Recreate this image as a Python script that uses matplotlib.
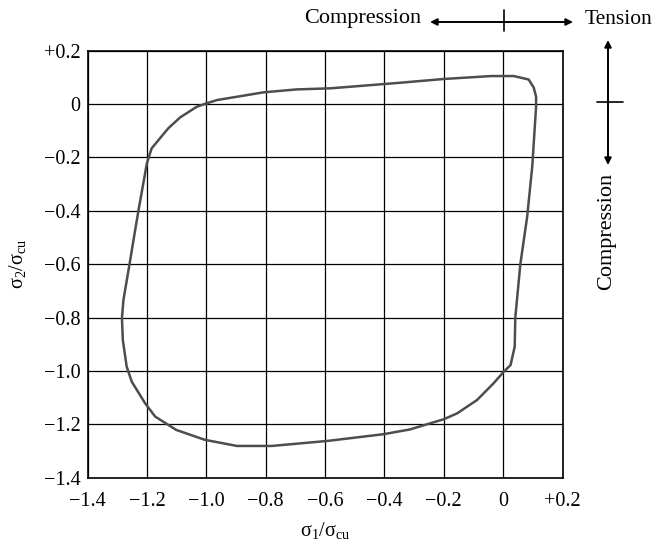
import matplotlib.pyplot as plt
import numpy as np

plt.rcParams['font.family'] = ['Liberation Serif', 'DejaVu Serif']
plt.rcParams['mathtext.fontset'] = 'custom'
plt.rcParams['mathtext.rm'] = 'Liberation Serif'
plt.rcParams['mathtext.default'] = 'regular'

# failure envelope (sigma1/sigma_cu, sigma2/sigma_cu)
s1 = [-0.998, -0.964, -0.807, -0.695, -0.582, -0.346, -0.200, -0.040, 0.036, 0.086,
      0.103, 0.111, 0.111, 0.098, 0.081, 0.058, 0.041, 0.039, 0.025, 0.002,
      -0.032, -0.088, -0.155, -0.200, -0.245, -0.313, -0.403, -0.590, -0.779, -0.897,
      -1.005, -1.101, -1.172, -1.206, -1.251, -1.268, -1.281, -1.284, -1.279, -1.258,
      -1.245, -1.228, -1.200, -1.184, -1.161, -1.128, -1.088, -1.032, -0.998]
s2 = [0.003, 0.015, 0.044, 0.055, 0.059, 0.080, 0.094, 0.105, 0.105, 0.092,
      0.062, 0.028, -0.010, -0.235, -0.422, -0.600, -0.800, -0.909, -0.978, -1.003,
      -1.046, -1.109, -1.159, -1.181, -1.196, -1.219, -1.237, -1.262, -1.281, -1.281,
      -1.258, -1.221, -1.171, -1.121, -1.040, -0.984, -0.884, -0.803, -0.734, -0.597,
      -0.509, -0.397, -0.222, -0.166, -0.135, -0.091, -0.050, -0.010, 0.003]

xticks = [-1.4, -1.2, -1.0, -0.8, -0.6, -0.4, -0.2, 0.0, 0.2]
xlabels = ['\u22121.4', '\u22121.2', '\u22121.0', '\u22120.8', '\u22120.6', '\u22120.4', '\u22120.2', '0', '+0.2']
yticks = [-1.4, -1.2, -1.0, -0.8, -0.6, -0.4, -0.2, 0.0, 0.2]
ylabels = ['\u22121.4', '\u22121.2', '\u22121.0', '\u22120.8', '\u22120.6', '\u22120.4', '\u22120.2', '0', '+0.2']

fig = plt.figure(figsize=(6.57, 5.44), dpi=100)
ax = fig.add_axes([87.5 / 657, 1 - 477.7 / 544, 475 / 657, 427 / 544])

ax.plot(s1, s2, color='#4d4d4d', linewidth=1.8, solid_joinstyle='round')

ax.set_xlim(-1.4, 0.2)
ax.set_ylim(-1.4, 0.2)
ax.set_xticks(xticks)
ax.set_xticklabels(xlabels)
ax.set_yticks(yticks)
ax.set_yticklabels(ylabels)
ax.tick_params(length=0, labelsize=14.5)
ax.tick_params(axis='x', pad=10)
ax.tick_params(axis='y', pad=5)
ax.grid(True, color='black', linewidth=0.9)
for sp in ax.spines.values():
    sp.set_linewidth(1.2)

ax.set_xlabel('σ$_1$/σ$_{cu}$', fontsize=14.5)
ax.xaxis.set_label_coords(0.5, -0.1)
ax.set_ylabel('σ$_2$/σ$_{cu}$', fontsize=14.5)
ax.yaxis.set_label_coords(-0.125, 0.5)

# direction indicators
def fp(x, y):
    return (x, 544 - y)

ap = dict(arrowstyle='<|-|>', color='black', lw=1.4, mutation_scale=10, shrinkA=0, shrinkB=0)
ax.annotate('', xy=fp(573, 22), xytext=fp(430, 22), xycoords='figure pixels', arrowprops=ap)
ax.annotate('', xy=fp(504, 10), xytext=fp(504, 31), xycoords='figure pixels',
            arrowprops=dict(arrowstyle='-', color='black', lw=1.2, shrinkA=0, shrinkB=0))
fig.text(421 / 657, 1 - 19 / 544, 'Compression', ha='right', va='center', fontsize=16)
fig.text(585 / 657, 1 - 19 / 544, 'Tension', ha='left', va='center', fontsize=15.5)

ax.annotate('', xy=fp(608, 40), xytext=fp(608, 165), xycoords='figure pixels', arrowprops=ap)
ax.annotate('', xy=fp(597, 102), xytext=fp(623, 102), xycoords='figure pixels',
            arrowprops=dict(arrowstyle='-', color='black', lw=1.2, shrinkA=0, shrinkB=0))
fig.text(607 / 657, 1 - 173 / 544, 'Compression', ha='center', va='top', rotation=90, fontsize=16)

fig.savefig('out.png', dpi=100)
